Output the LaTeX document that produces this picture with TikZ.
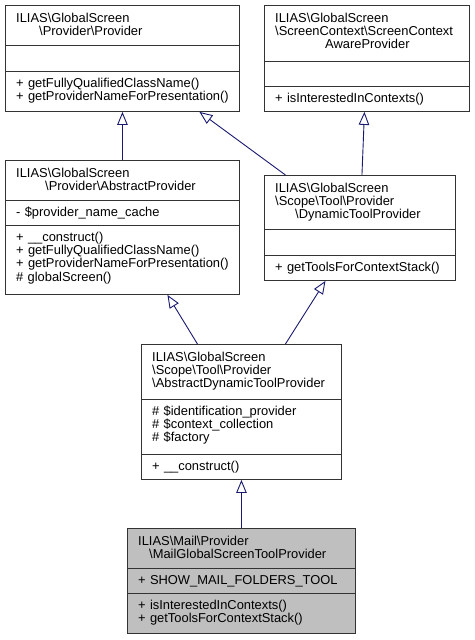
\documentclass[tikz,border=0pt]{standalone}
\usepackage{fontspec}
\setmainfont{Liberation Sans}
\usepackage{tikz}
\usetikzlibrary{arrows.meta}
\definecolor{midnight}{HTML}{191970}
\definecolor{focusgray}{HTML}{BFBFBF}

\begin{document}
\begin{tikzpicture}[x=1pt,y=-1pt,
		cls/.style={draw=black!80, line width=.9pt, fill=white, anchor=north west, inner sep=0pt},
		sep/.style={draw=black!80, line width=.9pt},
		txt/.style={anchor=base west, inner sep=0pt, text width=230pt, align=left, font=\fontsize{12.9}{13.3}\selectfont},
		inh/.style={draw=midnight, line width=.9pt, -{Triangle[length=13pt,width=10.5pt,fill=white]}}]
			\useasboundingbox (0,0) rectangle (474,640);

			% Provider
			\node[cls, minimum width=234pt, minimum height=106pt] (prov) at (5,5) {};
			\draw[sep] ([yshift=-40.5pt]prov.north west) -- ([yshift=-40.5pt]prov.north east);
			\draw[sep] ([yshift=-66pt]prov.north west) -- ([yshift=-66pt]prov.north east);
			\node[txt] (provTitle) at ([xshift=11pt,yshift=-17pt]prov.north west) {ILIAS\textbackslash GlobalScreen\\\hspace*{23pt}\textbackslash Provider\textbackslash Provider};
			\node[txt] (provOps) at ([xshift=11pt,yshift=-82.3pt]prov.north west) {+ getFullyQualifiedClassName()\\+ getProviderNameForPresentation()};

			% ScreenContextAwareProvider
			\node[cls, minimum width=205pt, minimum height=106pt] (aware) at (264,5) {};
			\draw[sep] ([yshift=-56pt]aware.north west) -- ([yshift=-56pt]aware.north east);
			\draw[sep] ([yshift=-81pt]aware.north west) -- ([yshift=-81pt]aware.north east);
			\node[txt] (awareTitle) at ([xshift=11pt,yshift=-17pt]aware.north west) {ILIAS\textbackslash GlobalScreen\\\textbackslash ScreenContext\textbackslash ScreenContext\\\hspace*{50pt}AwareProvider};
			\node[txt] (awareOps) at ([xshift=11pt,yshift=-97.3pt]aware.north west) {+ isInterestedInContexts()};

			% AbstractProvider
			\node[cls, minimum width=234pt, minimum height=134pt] (abs) at (5,160) {};
			\draw[sep] ([yshift=-40pt]abs.north west) -- ([yshift=-40pt]abs.north east);
			\draw[sep] ([yshift=-65pt]abs.north west) -- ([yshift=-65pt]abs.north east);
			\node[txt] (absTitle) at ([xshift=11pt,yshift=-17pt]abs.north west) {ILIAS\textbackslash GlobalScreen\\\hspace*{29pt}\textbackslash Provider\textbackslash AbstractProvider};
			\node[txt] (absAttr) at ([xshift=11pt,yshift=-56.3pt]abs.north west) {- \$provider\_name\_cache};
			\node[txt] (absOps) at ([xshift=11pt,yshift=-81.3pt]abs.north west) {+ \_\_construct()\\+ getFullyQualifiedClassName()\\+ getProviderNameForPresentation()\\\# globalScreen()};

			% DynamicToolProvider
			\node[cls, minimum width=191pt, minimum height=105pt] (dyn) at (264,175) {};
			\draw[sep] ([yshift=-54pt]dyn.north west) -- ([yshift=-54pt]dyn.north east);
			\draw[sep] ([yshift=-80pt]dyn.north west) -- ([yshift=-80pt]dyn.north east);
			\node[txt] (dynTitle) at ([xshift=11pt,yshift=-17pt]dyn.north west) {ILIAS\textbackslash GlobalScreen\\\textbackslash Scope\textbackslash Tool\textbackslash Provider\\\hspace*{20pt}\textbackslash DynamicToolProvider};
			\node[txt] (dynOps) at ([xshift=11pt,yshift=-96.3pt]dyn.north west) {+ getToolsForContextStack()};

			% AbstractDynamicToolProvider
			\node[cls, minimum width=200pt, minimum height=135pt] (absdyn) at (141,344) {};
			\draw[sep] ([yshift=-55pt]absdyn.north west) -- ([yshift=-55pt]absdyn.north east);
			\draw[sep] ([yshift=-110pt]absdyn.north west) -- ([yshift=-110pt]absdyn.north east);
			\node[txt] (absdynTitle) at ([xshift=11pt,yshift=-17pt]absdyn.north west) {ILIAS\textbackslash GlobalScreen\\\textbackslash Scope\textbackslash Tool\textbackslash Provider\\\textbackslash AbstractDynamicToolProvider};
			\node[txt] (absdynAttr) at ([xshift=11pt,yshift=-71.3pt]absdyn.north west) {\# \$identification\_provider\\\# \$context\_collection\\\# \$factory};
			\node[txt] (absdynOps) at ([xshift=11pt,yshift=-126.3pt]absdyn.north west) {+ \_\_construct()};

			% MailGlobalScreenToolProvider
			\node[cls, fill=focusgray, minimum width=228pt, minimum height=105pt] (mail) at (127,528) {};
			\draw[sep] ([yshift=-40pt]mail.north west) -- ([yshift=-40pt]mail.north east);
			\draw[sep] ([yshift=-65pt]mail.north west) -- ([yshift=-65pt]mail.north east);
			\node[txt] (mailTitle) at ([xshift=11pt,yshift=-17pt]mail.north west) {ILIAS\textbackslash Mail\textbackslash Provider\\\hspace*{11pt}\textbackslash MailGlobalScreenToolProvider};
			\node[txt] (mailAttr) at ([xshift=11pt,yshift=-56.3pt]mail.north west) {+ SHOW\_MAIL\_FOLDERS\_TOOL};
			\node[txt] (mailOps) at ([xshift=11pt,yshift=-81.3pt]mail.north west) {+ isInterestedInContexts()\\+ getToolsForContextStack()};

			% inheritance
			\draw[inh] (abs.north) -- (prov.south);
			\draw[inh] ([xshift=-74.5pt]dyn.north) -- ([xshift=77pt]prov.south);
			\draw[inh] ([xshift=2pt]dyn.north) -- ([xshift=-2.5pt]aware.south);
			\draw[inh] ([xshift=-44pt]absdyn.north) -- ([xshift=45pt]abs.south);
			\draw[inh] ([xshift=44pt]absdyn.north) -- ([xshift=-34.5pt]dyn.south);
			\draw[inh] (mail.north) -- (absdyn.south);
		\end{tikzpicture}
\end{document}
